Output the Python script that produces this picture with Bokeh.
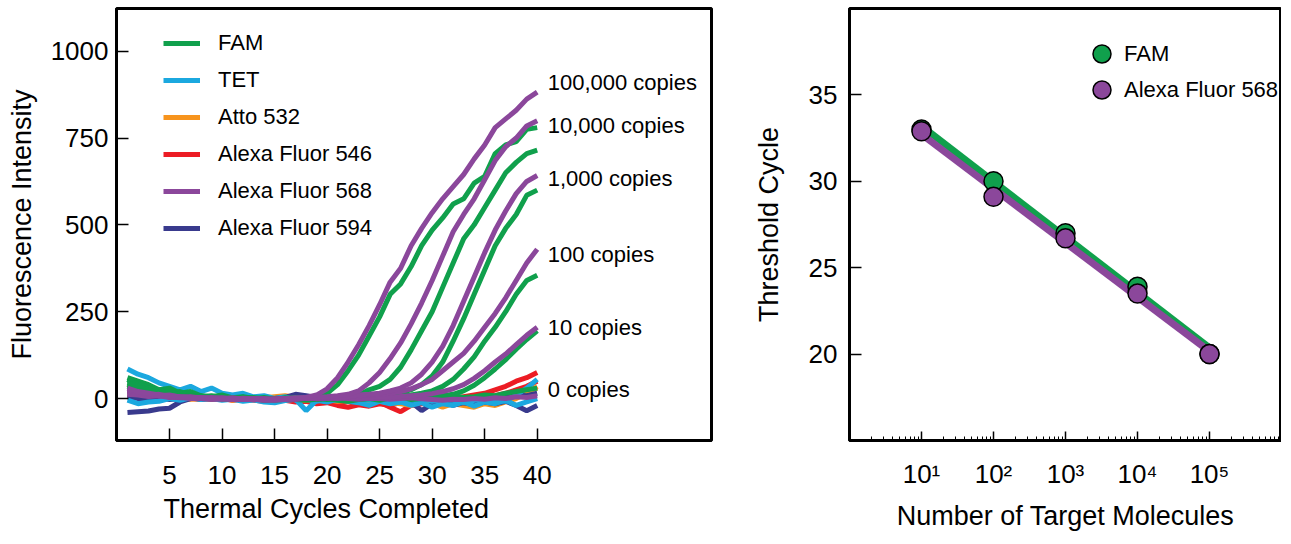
from bokeh.plotting import figure
from bokeh.models import FixedTicker, Legend, LegendItem, Title
from bokeh.layouts import row
from bokeh.embed import file_html
from bokeh.resources import INLINE
from bokeh.core.properties import value
import numpy as np

# ---------------- data: left panel (amplification curves) ----------------
cycles = list(range(1, 41))

fam_100000 = [45, 35, 25, 15, 20, 10, 5, 8, 3, 0, -3, 2, 0, -5, -2, 0, -3, 2, 5, 15,
              40, 80, 125, 180, 235, 300, 330, 380, 440, 485, 520, 560, 575, 620, 640, 705, 730, 740, 775, 780]
fam_10000 = [55, 40, 30, 20, 10, 15, 8, 5, 2, 0, 3, -2, 0, -4, -3, 0, 2, -2, 0, 3,
             2, 5, 10, 25, 35, 55, 90, 140, 195, 250, 320, 390, 460, 500, 550, 600, 650, 680, 705, 715]
fam_1000 = [40, 30, 28, 15, 12, 5, 8, 0, 3, -2, 0, 2, -3, 0, -5, -2, 0, 3, -2, 0,
            5, 2, 8, 5, 10, 12, 18, 25, 40, 65, 105, 165, 230, 300, 370, 440, 490, 530, 585, 600]
fam_100 = [50, 45, 30, 25, 15, 20, 10, 5, 8, 2, 0, 4, -2, 0, -4, 2, -2, 0, 3, -3,
           0, 2, -2, 0, 3, 5, 8, 10, 15, 22, 35, 55, 85, 120, 165, 205, 250, 300, 340, 355]
fam_10 = [35, 25, 30, 15, 10, 12, 5, 3, 0, 5, -2, 0, 3, -3, 0, -2, 2, 0, -3, 2,
          0, -2, 3, 0, 2, 0, 3, 5, 2, 5, 8, 12, 22, 38, 60, 85, 112, 142, 170, 195]
fam_0 = [60, 50, 40, 25, 30, 15, 20, 8, 5, 10, 2, 5, 0, 3, -2, 0, -3, -5, -2, 0,
         -5, -8, -3, 0, -5, 2, 5, -3, 0, 2, 5, 8, 3, 5, 10, 8, 15, 20, 25, 30]

af568_100000 = [30, 20, 15, 10, 8, 5, 3, 2, 0, -2, 0, -3, -2, -5, -5, -3, 0, 3, 10, 28,
                60, 105, 155, 210, 270, 335, 375, 440, 490, 535, 575, 610, 645, 690, 730, 780, 805, 830, 862, 882]
af568_10000 = [25, 18, 12, 8, 5, 3, 0, 2, -2, 0, -3, 0, -2, -4, -2, -3, 0, 2, 3, 5,
               8, 12, 22, 45, 75, 115, 160, 215, 275, 340, 410, 480, 530, 575, 630, 685, 725, 750, 785, 800]
af568_1000 = [20, 15, 10, 12, 5, 2, 4, 0, -2, 1, -1, -3, 0, -2, -4, 0, 2, 0, 4, 3,
              6, 5, 10, 12, 15, 22, 30, 45, 70, 105, 150, 210, 280, 350, 420, 485, 540, 590, 625, 642]
af568_100 = [15, 12, 8, 10, 5, 3, 5, 1, 0, 2, -2, 0, -1, -3, -2, 0, -2, 2, 0, 3,
             2, 5, 8, 10, 12, 15, 20, 28, 40, 55, 80, 105, 130, 165, 205, 245, 290, 340, 390, 430]
af568_10 = [22, 18, 12, 8, 10, 4, 2, 3, 0, -1, 2, -2, 0, -3, -1, 0, -2, 1, 0, 2,
            0, 3, 1, 2, 4, 3, 6, 8, 10, 14, 20, 28, 40, 58, 80, 105, 128, 155, 182, 205]
af568_0 = [12, 10, 6, 8, 3, 5, 2, 0, 3, 0, -2, 1, -1, 0, -3, -1, 0, 2, -1, 0,
           2, 0, -2, 1, 0, -2, 0, 2, -1, -3, -5, -2, -3, 0, -2, 2, 0, 5, 3, 8]

tet_a = [85, 70, 60, 45, 35, 25, 35, 20, 30, 15, 10, 15, 5, 8, 0, 5, -5, -2, -8, 0,
         -5, -3, 0, -5, -2, -8, -10, -5, 0, -8, -3, -5, -12, -5, 0, -5, -8, 10, 30, 55]
tet_b = [-5, -15, -10, -8, 0, -5, 2, -3, 0, -5, -2, -8, -4, -10, -12, -6, -2, -35, -5, -10,
         -2, -8, -12, -20, -8, -15, -10, -20, -12, -25, -15, -20, -10, -22, -10, -15, -5, -20, -10, 0]
atto_a = [40, 30, 20, 15, 10, 5, 8, 2, 5, 0, -2, 3, -3, 0, 5, 8, 3, 0, -3, -5,
          -2, -8, -5, -10, -8, -12, -15, -20, -10, -15, -25, -15, -20, -25, -15, -20, -10, 0, 15, 35]
atto_b = [20, 15, 5, 8, 0, 3, -2, 0, -3, 2, -5, 0, -2, 5, 3, 0, -3, -5, 0, -3,
          -8, -5, -10, -5, -8, -3, -10, -5, -8, -12, -8, -15, -10, -5, -8, 0, 5, 15, 20, 30]
af546_a = [30, 25, 15, 10, 5, 8, 0, 3, -2, 0, -5, -2, -5, -8, -3, -5, -10, -8, -15, -12,
           -20, -25, -18, -22, -15, -20, -12, -18, -10, -8, -5, 0, 5, 10, 15, 25, 35, 50, 60, 75]
af546_b = [10, 5, 8, 0, 3, -2, 0, -3, 2, -2, 0, -5, -3, 0, -2, -5, -3, -8, -5, -10,
           -15, -8, -12, -5, -10, -25, -38, -20, -15, -10, -20, -8, -5, 0, 5, 8, 15, 25, 35, 50]
af594_a = [-40, -38, -36, -30, -28, -10, 0, 5, 3, 0, 2, -2, 0, -3, 0, 2, 0, -2, 5, 8,
           3, 0, 5, 10, 8, 3, -5, -10, -35, -15, -8, -20, -12, -18, -10, -15, -8, -20, -35, -20]
af594_b = [5, 0, -5, 2, -3, 0, 3, -2, 0, 2, -3, 0, 2, -2, 0, 3, 12, 8, 3, 0,
           -3, 0, 2, -2, 0, 5, 2, 0, -5, -2, 0, -5, -2, -8, -3, 0, 5, 10, 8, 15]

copy_labels = ["100,000 copies", "10,000 copies", "1,000 copies", "100 copies", "10 copies", "0 copies"]
copy_label_y = [909, 786, 633, 415, 204, 26]
copy_label_x = 41.0

x_ticks_left = [5, 10, 15, 20, 25, 30, 35, 40]
y_ticks_left = [0, 250, 500, 750, 1000]

# ---------------- data: right panel (standard curve) ----------------
molecules = [10, 100, 1000, 10000, 100000]
fam_ct = [33.0, 30.0, 27.0, 23.9, 20.0]
af568_ct = [32.9, 29.1, 26.7, 23.5, 20.0]
y_ticks_right = [20, 25, 30, 35]
x_tick_labels_right = {10: "10\u00b9", 100: "10\u00b2", 1000: "10\u00b3",
                       10000: "10\u2074", 100000: "10\u2075"}

# ---------------- styling ----------------
FONT = "Liberation Sans"
GREEN = "#10A04C"
CYAN = "#1BA8DF"
ORANGE = "#F7941D"
RED = "#EC1C24"
PURPLE = "#8B479B"
NAVY = "#393A8D"


def style_axes(p):
    p.grid.visible = False
    p.outline_line_color = "black"
    p.outline_line_width = 3
    p.outline_line_alpha = 1
    p.background_fill_color = "white"
    p.border_fill_color = "white"
    for ax in (p.xaxis[0], p.yaxis[0]):
        ax.axis_line_color = "black"
        ax.axis_line_width = 3
        ax.major_tick_line_color = "black"
        ax.major_tick_line_width = 1.5
        ax.major_tick_out = 0
        ax.major_tick_in = 12
        ax.minor_tick_out = 0
        ax.minor_tick_in = 0
        ax.major_label_text_font = FONT
        ax.major_label_text_font_size = "26px"
        ax.major_label_text_color = "black"
        ax.axis_label_text_font = FONT
        ax.axis_label_text_font_size = "27px"
        ax.axis_label_text_font_style = "normal"
        ax.axis_label_text_color = "black"


# ---------------- left figure ----------------
p1 = figure(width=720, height=535, x_range=(-0.045, 56.59), y_range=(-120.9, 1123.0),
            output_backend="svg", toolbar_location=None,
            min_border_left=116, min_border_right=9, min_border_top=8, min_border_bottom=95)
style_axes(p1)
p1.xaxis.ticker = FixedTicker(ticks=x_ticks_left)
p1.yaxis.ticker = FixedTicker(ticks=y_ticks_left)
p1.xaxis.major_label_standoff = 25
p1.yaxis.major_label_standoff = 8
p1.yaxis.axis_label = "Fluorescence Intensity"
p1.yaxis.axis_label_standoff = 11

LW = 5
renderers = {}
groups = [
    ("Alexa Fluor 546", RED, [af546_a, af546_b]),
    ("Atto 532", ORANGE, [atto_a, atto_b]),
    ("Alexa Fluor 594", NAVY, [af594_a, af594_b]),
    ("TET", CYAN, [tet_a, tet_b]),
    ("FAM", GREEN, [fam_0, fam_10, fam_100, fam_1000, fam_10000, fam_100000]),
    ("Alexa Fluor 568", PURPLE, [af568_0, af568_10, af568_100, af568_1000, af568_10000, af568_100000]),
]
for name, color, series in groups:
    for vals in series:
        r = p1.line(cycles, vals, line_color=color, line_width=LW)
        renderers.setdefault(name, r)

p1.text(x=[copy_label_x] * len(copy_labels), y=copy_label_y, text=copy_labels,
        text_font=value(FONT), text_font_size="22px", text_color="black",
        text_align="left", text_baseline="middle")

legend_order = ["FAM", "TET", "Atto 532", "Alexa Fluor 546", "Alexa Fluor 568", "Alexa Fluor 594"]
leg1 = Legend(items=[LegendItem(label=n, renderers=[renderers[n]]) for n in legend_order],
              location=(47, 199), orientation="vertical",
              glyph_width=37, glyph_height=26, label_height=26, spacing=11,
              label_standoff=18, padding=0, margin=0,
              label_text_font=FONT, label_text_font_size="22px", label_text_color="black",
              border_line_color=None, background_fill_alpha=0)
p1.add_layout(leg1)

p1.add_layout(Title(text="Thermal Cycles Completed", align="left", offset=47, standoff=10,
                    text_font=FONT, text_font_size="27px", text_font_style="normal",
                    text_color="black"), "below")

# ---------------- right figure ----------------
p2 = figure(width=561, height=535, x_axis_type="log", x_range=(1, 1e6), y_range=(15, 40),
            output_backend="svg", toolbar_location=None,
            min_border_left=129, min_border_right=0, min_border_top=8, min_border_bottom=95)
style_axes(p2)
minor = [m * 10 ** e for e in range(0, 6) for m in range(2, 10)]
p2.xaxis.ticker = FixedTicker(ticks=molecules, minor_ticks=minor)
p2.xaxis.major_tick_in = 9
p2.xaxis.minor_tick_in = 4
p2.xaxis.minor_tick_line_color = "black"
p2.xaxis.minor_tick_line_width = 1
p2.xaxis.major_label_overrides = x_tick_labels_right
p2.xaxis.major_label_standoff = 18
p2.xaxis.axis_label = "Number of Target Molecules"
p2.xaxis.axis_label_standoff = 9
p2.yaxis.ticker = FixedTicker(ticks=y_ticks_right)
p2.yaxis.major_label_standoff = 12
p2.yaxis.axis_label = "Threshold Cycle"
p2.yaxis.axis_label_standoff = 22

lx = np.log10(molecules)
fit_x = [molecules[0], molecules[-1]]
fam_fit = np.polyfit(lx, fam_ct, 1)
af_fit = np.polyfit(lx, af568_ct, 1)
p2.line(fit_x, np.polyval(fam_fit, np.log10(fit_x)), line_color=GREEN, line_width=7)
p2.line(fit_x, np.polyval(af_fit, np.log10(fit_x)), line_color=PURPLE, line_width=7)
s_fam = p2.scatter(molecules, fam_ct, size=19, fill_color=GREEN, line_color="black", line_width=1.5)
s_af = p2.scatter(molecules, af568_ct, size=19, fill_color=PURPLE, line_color="black", line_width=1.5)

for lab, rend, vy in [("FAM", s_fam, 364), ("Alexa Fluor 568", s_af, 328)]:
    p2.add_layout(Legend(items=[LegendItem(label=lab, renderers=[rend])],
                         location=(230, vy), orientation="vertical",
                         glyph_width=45, glyph_height=45, label_height=45, spacing=0,
                         label_standoff=-2, padding=0, margin=0,
                         label_text_font=FONT, label_text_font_size="22px", label_text_color="black",
                         border_line_color=None, background_fill_alpha=0))

layout = row(p1, p2)
open("out.html", "w").write(file_html(layout, INLINE))
